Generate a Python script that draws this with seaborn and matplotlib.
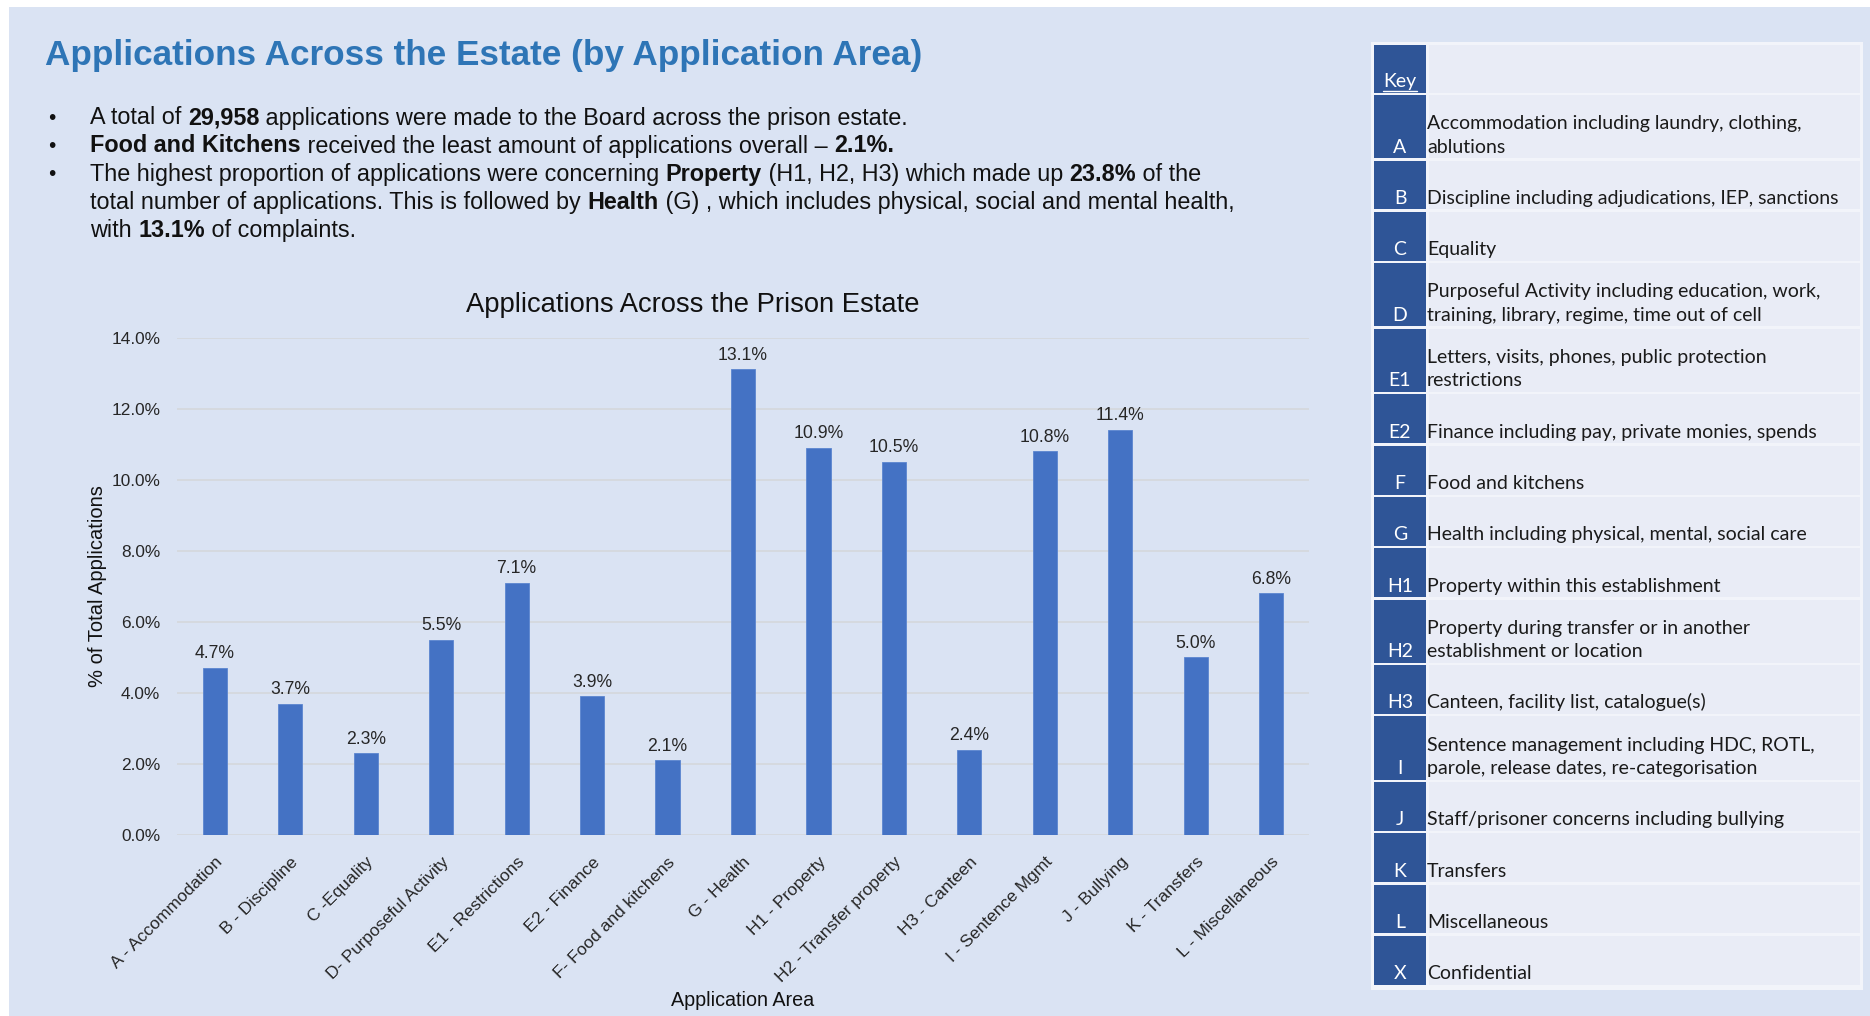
import matplotlib
matplotlib.use("Agg")
import matplotlib.pyplot as plt
import seaborn as sns
import pandas as pd
from matplotlib.patches import Rectangle
from matplotlib.lines import Line2D

# --- data -------------------------------------------------------------
areas = ["A - Accommodation", "B - Discipline", "C -Equality", "D- Purposeful Activity",
         "E1 - Restrictions", "E2 - Finance", "F- Food and kitchens", "G - Health",
         "H1 - Property", "H2 - Transfer property", "H3 - Canteen", "I - Sentence Mgmt",
         "J - Bullying", "K - Transfers", "L - Miscellaneous"]
pct = [4.7, 3.7, 2.3, 5.5, 7.1, 3.9, 2.1, 13.1, 10.9, 10.5, 2.4, 10.8, 11.4, 5.0, 6.8]
y_ticks = [0, 2, 4, 6, 8, 10, 12, 14]

key_codes = ["A", "B", "C", "D", "E1", "E2", "F", "G", "H1", "H2", "H3", "I", "J", "K", "L", "X"]
key_text = ["Accommodation including laundry, clothing,\nablutions",
            "Discipline including adjudications, IEP, sanctions",
            "Equality",
            "Purposeful Activity including education, work,\ntraining, library, regime, time out of cell",
            "Letters, visits, phones, public protection\nrestrictions",
            "Finance including pay, private monies, spends",
            "Food and kitchens",
            "Health including physical, mental, social care",
            "Property within this establishment",
            "Property during transfer or in another\nestablishment or location",
            "Canteen, facility list, catalogue(s)",
            "Sentence management including HDC, ROTL,\nparole, release dates, re-categorisation",
            "Staff/prisoner concerns including bullying",
            "Transfers",
            "Miscellaneous",
            "Confidential"]

bullets = [
    [("A total of ", False), ("29,958", True), (" applications were made to the Board across the prison estate.", False)],
    [("Food and Kitchens", True), (" received the least amount of applications overall \u2013 ", False), ("2.1%.", True)],
    [("The highest proportion of applications were concerning ", False), ("Property", True),
     (" (H1, H2, H3) which made up ", False), ("23.8%", True), (" of the", False)],
    [("total number of applications. This is followed by ", False), ("Health", True),
     (" (G) , which includes physical, social and mental health,", False)],
    [("with ", False), ("13.1%", True), (" of complaints.", False)],
]

df = pd.DataFrame({"area": areas, "pct": pct})

# --- style ------------------------------------------------------------
BG = "#DAE3F3"
BAR = "#4472C4"
DARK = "#2F5597"
CELL = "#E9ECF6"
sns.set_theme(style="white")
plt.rcParams["font.family"] = ["Liberation Sans", "DejaVu Sans"]

W, H = 1870, 1016
fig = plt.figure(figsize=(18.7, 10.16), dpi=100)
fig.patch.set_facecolor("white")
fig.add_artist(Rectangle((9 / W, 0), 1, 1 - 7 / H, transform=fig.transFigure,
                         facecolor=BG, edgecolor="none", zorder=0))


def fx(px):
    return px / W


def fy(py):
    return 1 - py / H


# --- headline and bullets ----------------------------------------------
fig.text(fx(45), fy(55), "Applications Across the Estate (by Application Area)",
         fontsize=25.3, fontweight="bold", color="#2E75B6", va="center")

renderer = fig.canvas.get_renderer()
line_y = [118, 146, 174.5, 202.5, 230.5]
bullet_rows = [0, 1, 2]
for i, runs in enumerate(bullets):
    y = fy(line_y[i])
    if i in bullet_rows:
        fig.text(fx(48), y, "\u2022", fontsize=15, color="#111111", va="center")
    x = fx(90)
    for txt, bold in runs:
        t = fig.text(x, y, txt, fontsize=16.8, color="#111111", va="center",
                     fontweight="bold" if bold else "normal")
        bb = t.get_window_extent(renderer=renderer)
        x += bb.width / W

# --- bar chart ----------------------------------------------------------
ax = fig.add_axes([fx(177), fy(835), fx(1309) - fx(177), (835 - 337.5) / H])
ax.set_facecolor(BG)
sns.barplot(data=df, x="area", y="pct", color=BAR, width=0.32, ax=ax,
            saturation=1, edgecolor="#5B85D0", linewidth=0.6, zorder=3)
ax.set_ylim(0, 14)
ax.set_xlim(-0.5, len(areas) - 0.5)
ax.set_yticks(y_ticks)
ax.set_yticklabels([f"{v:.1f}%" for v in y_ticks], fontsize=12.4, color="#262626")
ax.grid(axis="y", color="#D4D7DC", linewidth=1.2, zorder=0)
ax.set_axisbelow(True)
for s in ax.spines.values():
    s.set_visible(False)
ax.tick_params(axis="y", length=0, pad=12)
ax.tick_params(axis="x", length=0, pad=14)
ax.set_xticks(range(len(areas)))
ax.set_xticklabels(areas, rotation=45, ha="right", rotation_mode="anchor",
                   fontsize=12.5, color="#262626")
for i, v in enumerate(pct):
    ax.text(i, v + 0.16, f"{v:.1f}%", ha="center", va="bottom", fontsize=12.7, color="#262626")
ax.set_xlabel("Application Area", fontsize=14.2, color="#111111", labelpad=4)
ax.set_ylabel("% of Total Applications", fontsize=14.5, color="#111111", labelpad=3)
ax.set_title("Applications Across the Prison Estate", fontsize=19.7, color="#111111",
             pad=18, x=0.456)

# --- key table ----------------------------------------------------------
x0, xs, x1 = 1374, 1426, 1860
top = 45
header_h = 50
one_h, two_h = 51.3, 65.6
gap = 2.5
key_font = ["Lato", "DejaVu Sans"]


def cell(xa, ya, xb, yb, color):
    fig.add_artist(Rectangle((fx(xa), fy(yb)), fx(xb) - fx(xa), (yb - ya) / H,
                             transform=fig.transFigure, facecolor=color,
                             edgecolor="none", zorder=1))


cell(x0 - 3, top - 3, x1 + 3, top + header_h + sum(
    two_h if "\n" in t else one_h for t in key_text) + 3, "#F2F4FA")
cell(x0, top, xs, top + header_h - gap, DARK)
cell(xs + gap, top, x1, top + header_h - gap, CELL)
kt = fig.text(fx((x0 + xs) / 2), fy(top + header_h - 5), "Key", color="white",
              fontsize=14, ha="center", va="bottom", family=key_font)
kb = kt.get_window_extent(renderer=renderer)
fig.add_artist(Line2D([kb.x0 / W, kb.x1 / W], [fy(top + header_h - 4)] * 2,
                      color="white", linewidth=1, transform=fig.transFigure, zorder=3))

yy = top + header_h
for code, desc in zip(key_codes, key_text):
    h = two_h if "\n" in desc else one_h
    cell(x0, yy, xs, yy + h - gap, DARK)
    cell(xs + gap, yy, x1, yy + h - gap, CELL)
    fig.text(fx((x0 + xs) / 2), fy(yy + h - 5), code, color="white", fontsize=14,
             ha="center", va="bottom", family=key_font, zorder=3)
    fig.text(fx(xs + 1), fy(yy + h - 5), desc, color="#1a1a1a", fontsize=14,
             ha="left", va="bottom", family=key_font, linespacing=1.45, zorder=3)
    yy += h

fig.savefig("out.png", dpi=100, facecolor=fig.get_facecolor())
